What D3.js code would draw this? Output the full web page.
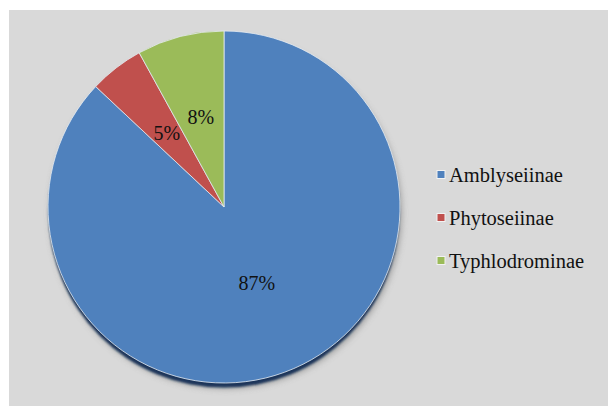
<!DOCTYPE html>
<html>
<head>
<meta charset="utf-8">
<script src="https://cdn.jsdelivr.net/npm/d3@7"></script>
<style>
  html, body { margin: 0; padding: 0; background: #ffffff; }
  svg { display: block; }
</style>
</head>
<body>
<svg id="chart" width="608" height="406"></svg>
<script>
// Subfamily shares (percent)
const categories = ["Amblyseiinae", "Phytoseiinae", "Typhlodrominae"];
const values = [87, 5, 8];
const labels = ["87%", "5%", "8%"];
const colors = ["#4f81bd", "#c0504d", "#9bbb59"];

const svg = d3.select("#chart");
const W = 608, H = 406;

// Chart area background
svg.append("rect")
  .attr("x", 9).attr("y", 10)
  .attr("width", W - 9).attr("height", H - 10)
  .attr("fill", "#d9d9d9");

const defs = svg.append("defs");
defs.append("filter").attr("id", "soft")
  .attr("x", "-20%").attr("y", "-20%").attr("width", "140%").attr("height", "140%")
  .append("feGaussianBlur").attr("stdDeviation", 3);
defs.append("filter").attr("id", "rim")
  .append("feGaussianBlur").attr("stdDeviation", 1);

const cx = 224, cy = 207, R = 176;

const g = svg.append("g").attr("transform", `translate(${cx},${cy})`);

// Drop shadow and dark rim beneath the pie
g.append("circle").attr("cx", 2).attr("cy", 6).attr("r", R)
  .attr("fill", "#8f8f8f").attr("filter", "url(#soft)").attr("opacity", 0.75);
g.append("circle").attr("cx", 0).attr("cy", 5).attr("r", R - 0.5)
  .attr("fill", "#1c365a").attr("filter", "url(#rim)");

const pie = d3.pie().sort(null).value(d => d)
  .startAngle(0).endAngle(2 * Math.PI);
const arcs = pie(values);

const arc = d3.arc().innerRadius(0).outerRadius(R);
// Large slice label sits a little nearer the centre than the narrow ones
const labelR = d => (d.value > 50 ? 0.47 : 0.53) * R;
const labelArc = d3.arc().innerRadius(labelR).outerRadius(labelR);

g.selectAll("path.slice")
  .data(arcs)
  .join("path")
  .attr("class", "slice")
  .attr("d", arc)
  .attr("fill", (d, i) => colors[i])
  .attr("stroke", "#e6ecf2")
  .attr("stroke-width", 0.8);

g.selectAll("text.pct")
  .data(arcs)
  .join("text")
  .attr("class", "pct")
  .attr("transform", d => {
    const [x, y] = labelArc.centroid(d);
    return `translate(${x},${y})`;
  })
  .attr("text-anchor", "middle")
  .attr("dy", "0.35em")
  .attr("font-family", "'Liberation Serif', 'Times New Roman', serif")
  .attr("font-size", 20)
  .attr("fill", "#111")
  .text((d, i) => labels[i]);

// Legend
const legend = svg.append("g").attr("transform", "translate(437,0)");
const rowY = d3.scalePoint().domain(categories).range([175, 261]);

const item = legend.selectAll("g.item")
  .data(categories)
  .join("g")
  .attr("class", "item")
  .attr("transform", d => `translate(0,${rowY(d)})`);

item.append("rect")
  .attr("x", 0).attr("y", -4.5)
  .attr("width", 8).attr("height", 8)
  .attr("fill", (d, i) => colors[i])
  .attr("stroke", "#f2f2f2").attr("stroke-width", 1);

item.append("text")
  .attr("x", 12).attr("y", 6.5)
  .attr("font-family", "'Liberation Serif', 'Times New Roman', serif")
  .attr("font-size", 20.5)
  .attr("fill", "#111")
  .text(d => d);
</script>
</body>
</html>
